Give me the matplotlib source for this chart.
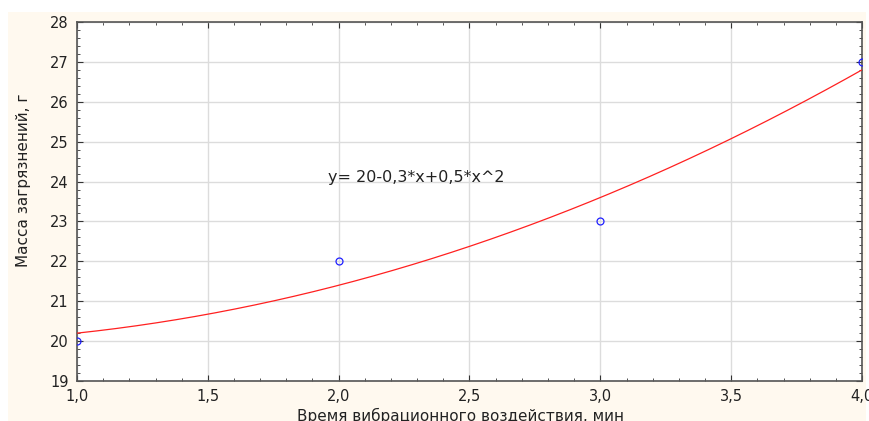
"""Quadratic fit of contamination mass vs vibration time."""
import numpy as np
import matplotlib
matplotlib.use('Agg')
import matplotlib.pyplot as plt
from matplotlib.ticker import MultipleLocator

# data points
time_min = [1.0, 2.0, 3.0, 4.0]
mass_g = [20.0, 22.0, 23.0, 27.0]

x_label = 'Время вибрационного воздействия, мин'
y_label = 'Масса загрязнений, г'
eq_text = 'y= 20-0,3*x+0,5*x^2'

# the source image is stretched sideways, so a wide face fits better
plt.rcParams['font.family'] = ['DejaVu Sans']

fig = plt.figure(figsize=(8.69, 4.21), dpi=100)
fig.patch.set_facecolor('white')

# cream panel behind the plot (statistica style)
bg = fig.add_axes([8 / 869, 0, 858 / 869, 409 / 421], zorder=-1)
bg.set_facecolor('#fff9ef')
bg.set_xticks([])
bg.set_yticks([])
for s in bg.spines.values():
    s.set_visible(False)

ax = fig.add_axes([77 / 869, 40 / 421, 785 / 869, 359 / 421], zorder=1)
ax.set_facecolor('white')

# quadratic least-squares fit, same as the equation printed on the chart
coef = np.polyfit(time_min, mass_g, 2)
xs = np.linspace(min(time_min), max(time_min), 200)
ax.plot(xs, np.polyval(coef, xs), color='#ff2020', lw=0.9, zorder=3)
ax.plot(time_min, mass_g, 'o', ms=5, mfc='none', mec='#2020ff', mew=0.9,
        zorder=4)

ax.set_xlim(1.0, 4.0)
ax.set_ylim(19, 28)
ax.xaxis.set_minor_locator(MultipleLocator(0.1))
ax.yaxis.set_major_locator(MultipleLocator(1))
ax.yaxis.set_minor_locator(MultipleLocator(0.2))
xt = np.arange(1.0, 4.01, 0.5)
ax.set_xticks(xt)
ax.set_xticklabels([f'{v:.1f}'.replace('.', ',') for v in xt])

ax.tick_params(which='both', direction='in', top=True, right=True,
               colors='#333333', labelsize=10.5, labelcolor='#222222')
ax.tick_params(which='major', length=4, pad=6)
ax.tick_params(which='minor', length=2)
ax.grid(True, which='major', color='#dcdcdc', lw=1)
ax.set_axisbelow(True)
for s in ax.spines.values():
    s.set_color('#555555')
    s.set_linewidth(1.2)

ax.text(1.96, 24.1, eq_text, fontsize=11.5, ha='left', va='center',
        color='#222222')

ax.set_xlabel(x_label, fontsize=11, color='#222222', va='top')
ax.xaxis.set_label_coords(0.489, -0.075)
ax.set_ylabel(y_label, fontsize=11, color='#222222')
ax.yaxis.set_label_coords(-0.058, 0.56)

fig.savefig('out.png', dpi=100)
